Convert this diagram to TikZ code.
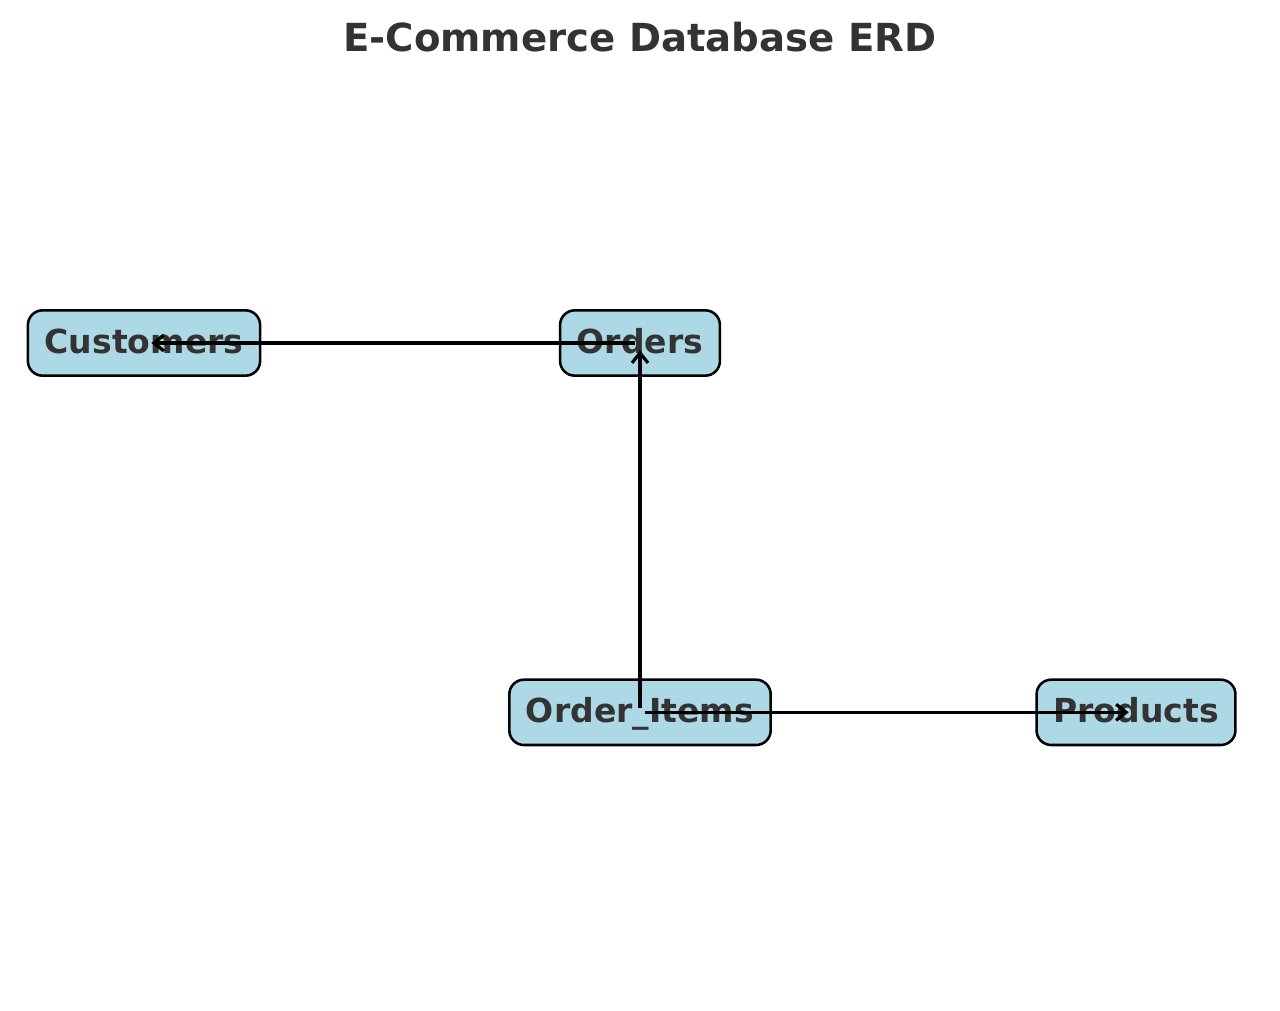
\documentclass[tikz,border=0pt]{standalone}
\usepackage{fontspec}
\setmainfont{DejaVu Sans}
\usepackage{tikz}
\usetikzlibrary{arrows.meta,positioning}
\definecolor{boxblue}{RGB}{173,216,230}
\definecolor{inkgray}{RGB}{51,51,51}
\tikzset{
  entity/.style={draw, line width=1.9pt, rounded corners=11pt, fill=boxblue,
    text=inkgray, font=\bfseries\fontsize{24.8}{30}\selectfont,
    inner xsep=12.5pt, inner ysep=0pt, text height=16.5pt, text depth=1pt,
    minimum height=49pt},
  rel/.style={-{Straight Barb[length=7.5pt,width=12pt]}, line width=2.4pt,
    shorten <=3.5pt, shorten >=5.5pt},
}

\begin{document}
\begin{tikzpicture}[x=0.75pt, y=-0.75pt, node distance=372pt, on grid]
  \useasboundingbox (0,0) rectangle (1280,1010);
  % Title
  \node[text=inkgray, font=\bfseries\fontsize{29}{34}\selectfont] (title) at (640,37) {E-Commerce Database ERD};
  % Define nodes
  \node[entity]                          (orders) at (640,343) {Orders};
  \node[entity, left=of orders]          (customers) {Customers};
  \node[entity, below=277pt of orders]   (orderitems) {Order\_Items};
  \node[entity, right=of orderitems]     (products) {Products};
  % Connect the nodes
  \draw[rel] (orders.center) -- (customers.center); %
  \draw[rel] (orderitems.center) -- (orders.center); %
  \draw[rel] (orderitems.center) -- (products.center); %
\end{tikzpicture}
\end{document}
